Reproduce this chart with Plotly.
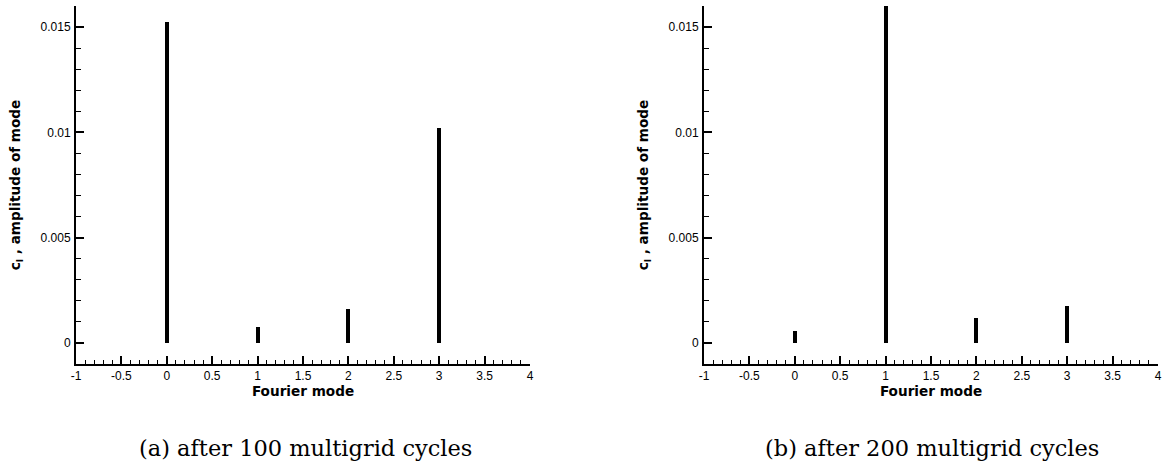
import plotly.graph_objects as go

# ---- data ----
modes = [0, 1, 2, 3]
amp_100 = [0.01522, 0.00075, 0.0016, 0.01022]
amp_200 = [0.00055, 0.0165, 0.0012, 0.00175]

x_tickvals = [-1, -0.5, 0, 0.5, 1, 1.5, 2, 2.5, 3, 3.5, 4]
x_ticktext = ["-1", "-0.5", "0", "0.5", "1", "1.5", "2", "2.5", "3", "3.5", "4"]
y_tickvals = [0, 0.005, 0.01, 0.015]
y_ticktext = ["0", "0.005", "0.01", "0.015"]

captions = ["(a) after 100 multigrid cycles", "(b) after 200 multigrid cycles"]
x_title = "<b>Fourier mode</b>"
y_title = "<b>c<sub>l</sub> , amplitude of mode</b>"

W, H = 1162, 466
fig = go.Figure()

fig.add_trace(go.Bar(x=modes, y=amp_100, width=0.045, marker=dict(color="black", line=dict(width=0)),
                     xaxis="x", yaxis="y", showlegend=False))
fig.add_trace(go.Bar(x=modes, y=amp_200, width=0.045, marker=dict(color="black", line=dict(width=0)),
                     xaxis="x2", yaxis="y2", showlegend=False))

tickfont = dict(family="Liberation Sans, Arial", size=12, color="black")
titlefont = dict(family="DejaVu Sans", size=13.6, color="black")

def xaxis(domain, anchor):
    return dict(domain=domain, anchor=anchor, range=[-1, 4], showgrid=False, zeroline=False,
                automargin=False,
                showline=True, linewidth=2, linecolor="black",
                tickvals=x_tickvals, ticktext=x_ticktext, ticks="inside", ticklen=8, tickwidth=1.5,
                tickcolor="black", tickfont=tickfont,
                minor=dict(ticks="inside", dtick=0.1, tick0=0, ticklen=4, tickwidth=1, tickcolor="black"),
                title=dict(text=x_title, font=titlefont, standoff=0))

def yaxis(anchor):
    return dict(domain=[(H - 364) / H, (H - 6) / H], anchor=anchor, range=[-0.001, 0.016],
                automargin=False,
                showgrid=False, zeroline=False, showline=True, linewidth=2, linecolor="black",
                tickvals=y_tickvals, ticktext=y_ticktext, ticks="inside", ticklen=8, tickwidth=1.5,
                tickcolor="black", tickfont=tickfont, ticklabelstandoff=1,
                minor=dict(ticks="inside", dtick=0.001, tick0=0, ticklen=5, tickwidth=1, tickcolor="black"),
                title=dict(text=y_title, font=titlefont, standoff=17))

fig.update_layout(
    width=W, height=H, margin=dict(l=0, r=0, t=0, b=0),
    paper_bgcolor="white", plot_bgcolor="white",
    xaxis=xaxis([76 / W, 530 / W], "y"),
    yaxis=yaxis("x"),
    xaxis2=xaxis([704 / W, 1158 / W], "y2"),
    yaxis2=yaxis("x2"),
    bargap=0,
)

for i, cx in enumerate([305 / W, 932 / W]):
    fig.add_annotation(x=cx, y=(H - 448) / H, xref="paper", yref="paper", text=captions[i],
                       showarrow=False, xanchor="center", yanchor="middle",
                       font=dict(family="DejaVu Serif", size=22.5, color="black"))

fig.write_html("out.html", config={"displayModeBar": False},
               post_script="document.body.style.margin='0';document.body.style.overflow='hidden';")
